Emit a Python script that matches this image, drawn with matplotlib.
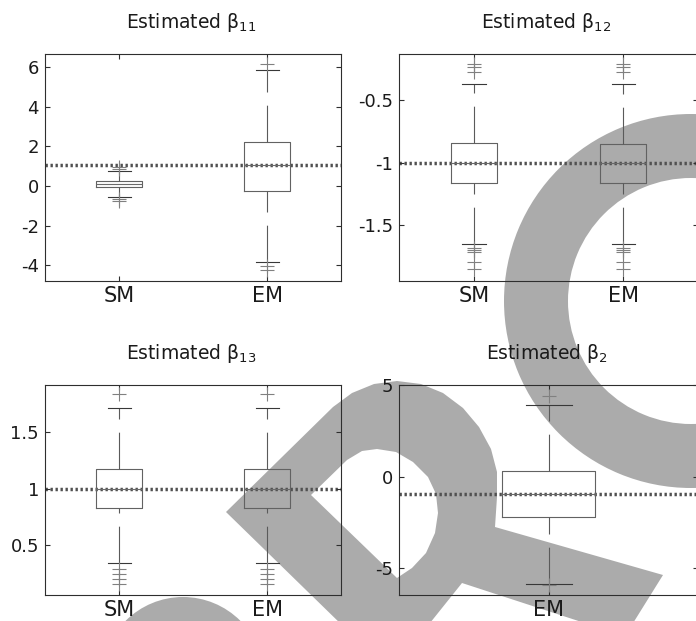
import matplotlib
matplotlib.use("Agg")
import matplotlib.pyplot as plt
from matplotlib.patches import Circle, Wedge, PathPatch
from matplotlib.path import Path
from matplotlib.transforms import Affine2D

plt.rcParams.update({
    "font.family": ["DejaVu Sans"],
    "mathtext.default": "regular",
    "lines.scale_dashes": False,
    "axes.unicode_minus": False,
})

W, H = 696, 621

# ---------------- data ----------------
# beta_11
b11_groups = ["SM", "EM"]
b11_q1 = [-0.07, -0.25]
b11_med = [0.09, 1.08]
b11_q3 = [0.24, 2.22]
b11_lo = [-0.56, -3.85]
b11_hi = [0.73, 5.83]
b11_out = [[0.84, 0.94, -0.67, -0.74], [6.14, -4.05, -4.22]]
b11_true = 1.08
b11_yticks = [-4, -2, 0, 2, 4, 6]
b11_ylabels = ["-4", "-2", "0", "2", "4", "6"]
b11_ylim = (-4.78, 6.64)

# beta_12
b12_groups = ["SM", "EM"]
b12_q1 = [-1.160, -1.162]
b12_med = [-1.0, -1.0]
b12_q3 = [-0.846, -0.849]
b12_lo = [-1.652, -1.652]
b12_hi = [-0.376, -0.376]
b12_out = [[-0.21, -0.235, -0.275, -1.678, -1.697, -1.716, -1.796, -1.852],
           [-0.21, -0.235, -0.275, -1.678, -1.697, -1.716, -1.796, -1.848]]
b12_true = -1.0
b12_yticks = [-1.5, -1.0, -0.5]
b12_ylabels = ["-1.5", "-1", "-0.5"]
b12_ylim = (-1.942, -0.135)

# beta_13
b13_groups = ["SM", "EM"]
b13_q1 = [0.828, 0.828]
b13_med = [1.0, 1.0]
b13_q3 = [1.177, 1.177]
b13_lo = [0.337, 0.337]
b13_hi = [1.712, 1.712]
b13_out = [[1.843, 0.29, 0.24, 0.195, 0.151], [1.843, 0.29, 0.24, 0.195, 0.151]]
b13_true = 1.0
b13_yticks = [0.5, 1.0, 1.5]
b13_ylabels = ["0.5", "1", "1.5"]
b13_ylim = (0.054, 1.917)

# beta_2
b2_groups = ["EM"]
b2_q1 = [-2.18]
b2_med = [-0.94]
b2_q3 = [0.33]
b2_lo = [-5.87]
b2_hi = [3.92]
b2_out = [[4.43, -5.9]]
b2_true = -0.94
b2_yticks = [-5, 0, 5]
b2_ylabels = ["-5", "0", "5"]
b2_ylim = (-6.47, 5.0)

titles = ["Estimated β${}_{11}$", "Estimated β${}_{12}$",
          "Estimated β${}_{13}$", "Estimated β${}_{2}$"]

# ---------------- styling ----------------
BOX = "#626262"
MED = "#6a6a6a"
WHISK = "#5a5a5a"
CAP = "#383838"
FLIER = "#808080"
SPINE = "#2e2e2e"
TRUE_C = "#505050"
SHADE = "#ababab"

fig = plt.figure(figsize=(W / 100, H / 100), dpi=100)
fig.patch.set_facecolor("white")

# pixel (top-left origin) -> figure transform for the background emblem
px = Affine2D().scale(1 / W, -1 / H).translate(0, 1) + fig.transFigure

ring = Wedge((691, 301), 187, 0, 360, width=64, transform=px,
             facecolor=SHADE, edgecolor="none", zorder=-1)
fig.add_artist(ring)

blob = Circle((183, 678), 81, transform=px, facecolor=SHADE,
              edgecolor="none", zorder=-1)
fig.add_artist(blob)

outer = [(226, 512), (333, 407), (352, 393), (374, 384), (397, 381),
         (421, 384), (443, 393), (463, 408), (479, 427), (491, 449),
         (497, 472), (497, 497), (495, 527), (663, 575), (630, 628),
         (600, 628), (462, 583), (426, 628), (345, 628), (226, 512)]
inner = [(311, 495), (397, 578), (412, 568), (426, 553), (435, 533),
         (438, 513), (436, 494), (428, 477), (413, 462), (396, 452),
         (377, 449), (362, 451), (347, 460), (311, 495)]
verts = outer + inner
codes = ([Path.MOVETO] + [Path.LINETO] * (len(outer) - 2) + [Path.CLOSEPOLY] +
         [Path.MOVETO] + [Path.LINETO] * (len(inner) - 2) + [Path.CLOSEPOLY])
loop = PathPatch(Path(verts, codes), transform=px, facecolor=SHADE,
                 edgecolor="none", zorder=-1)
fig.add_artist(loop)

# axes rectangles in pixels: left, top, right, bottom
rects = [(45.3, 54.3, 341.0, 280.7),
         (399.3, 54.3, 698.0, 280.7),
         (45.3, 385.3, 341.0, 595.3),
         (399.3, 385.3, 698.0, 595.3)]

panels = [
    (b11_groups, b11_q1, b11_med, b11_q3, b11_lo, b11_hi, b11_out, b11_true,
     b11_yticks, b11_ylabels, b11_ylim),
    (b12_groups, b12_q1, b12_med, b12_q3, b12_lo, b12_hi, b12_out, b12_true,
     b12_yticks, b12_ylabels, b12_ylim),
    (b13_groups, b13_q1, b13_med, b13_q3, b13_lo, b13_hi, b13_out, b13_true,
     b13_yticks, b13_ylabels, b13_ylim),
    (b2_groups, b2_q1, b2_med, b2_q3, b2_lo, b2_hi, b2_out, b2_true,
     b2_yticks, b2_ylabels, b2_ylim),
]

for (l, t, r, b), p, title in zip(rects, panels, titles):
    groups, q1, med, q3, lo, hi, out, true_v, yt, yl, ylim = p
    ax = fig.add_axes([l / W, 1 - b / H, (r - l) / W, (b - t) / H])
    ax.set_facecolor("none")

    stats = []
    for i, g in enumerate(groups):
        stats.append(dict(label=g, q1=q1[i], med=med[i], q3=q3[i],
                          whislo=lo[i], whishi=hi[i], fliers=out[i]))
    pos = list(range(1, len(groups) + 1))

    ax.axhline(true_v, color=TRUE_C, lw=2.5, linestyle=(0, (1.7, 1.9)),
               zorder=1)

    res = ax.bxp(stats, positions=pos, widths=0.31, capwidths=0.155,
                 manage_ticks=False,
                 boxprops=dict(color=BOX, linewidth=0.8),
                 medianprops=dict(color=MED, linewidth=0.8),
                 whiskerprops=dict(color=WHISK, linewidth=0.8,
                                   linestyle=(0, (26.5, 9.5))),
                 capprops=dict(color=CAP, linewidth=0.8),
                 flierprops=dict(marker="+", markersize=10,
                                 markeredgecolor=FLIER, markeredgewidth=0.8,
                                 linestyle="none"))
    # lower whiskers run from their cap towards the box
    for k, wl in enumerate(res["whiskers"]):
        if k % 2 == 0:
            wl.set_ydata(list(wl.get_ydata())[::-1])

    ax.set_xlim(0.5, len(groups) + 0.5)
    ax.set_ylim(*ylim)
    ax.set_xticks(pos, groups)
    ax.set_yticks(yt, yl)
    ax.tick_params(direction="in", length=3.5, width=0.8, color=SPINE,
                   top=True, right=True, labelcolor="#1a1a1a")
    ax.tick_params(axis="x", labelsize=15, pad=3.5)
    ax.tick_params(axis="y", labelsize=13, pad=4.5)
    for s in ax.spines.values():
        s.set_color(SPINE)
        s.set_linewidth(0.8)

    ax.set_title(title, fontsize=13.5, pad=18.7, x=0.493, color="#1a1a1a")

fig.savefig("out.png", dpi=100, facecolor="white")
